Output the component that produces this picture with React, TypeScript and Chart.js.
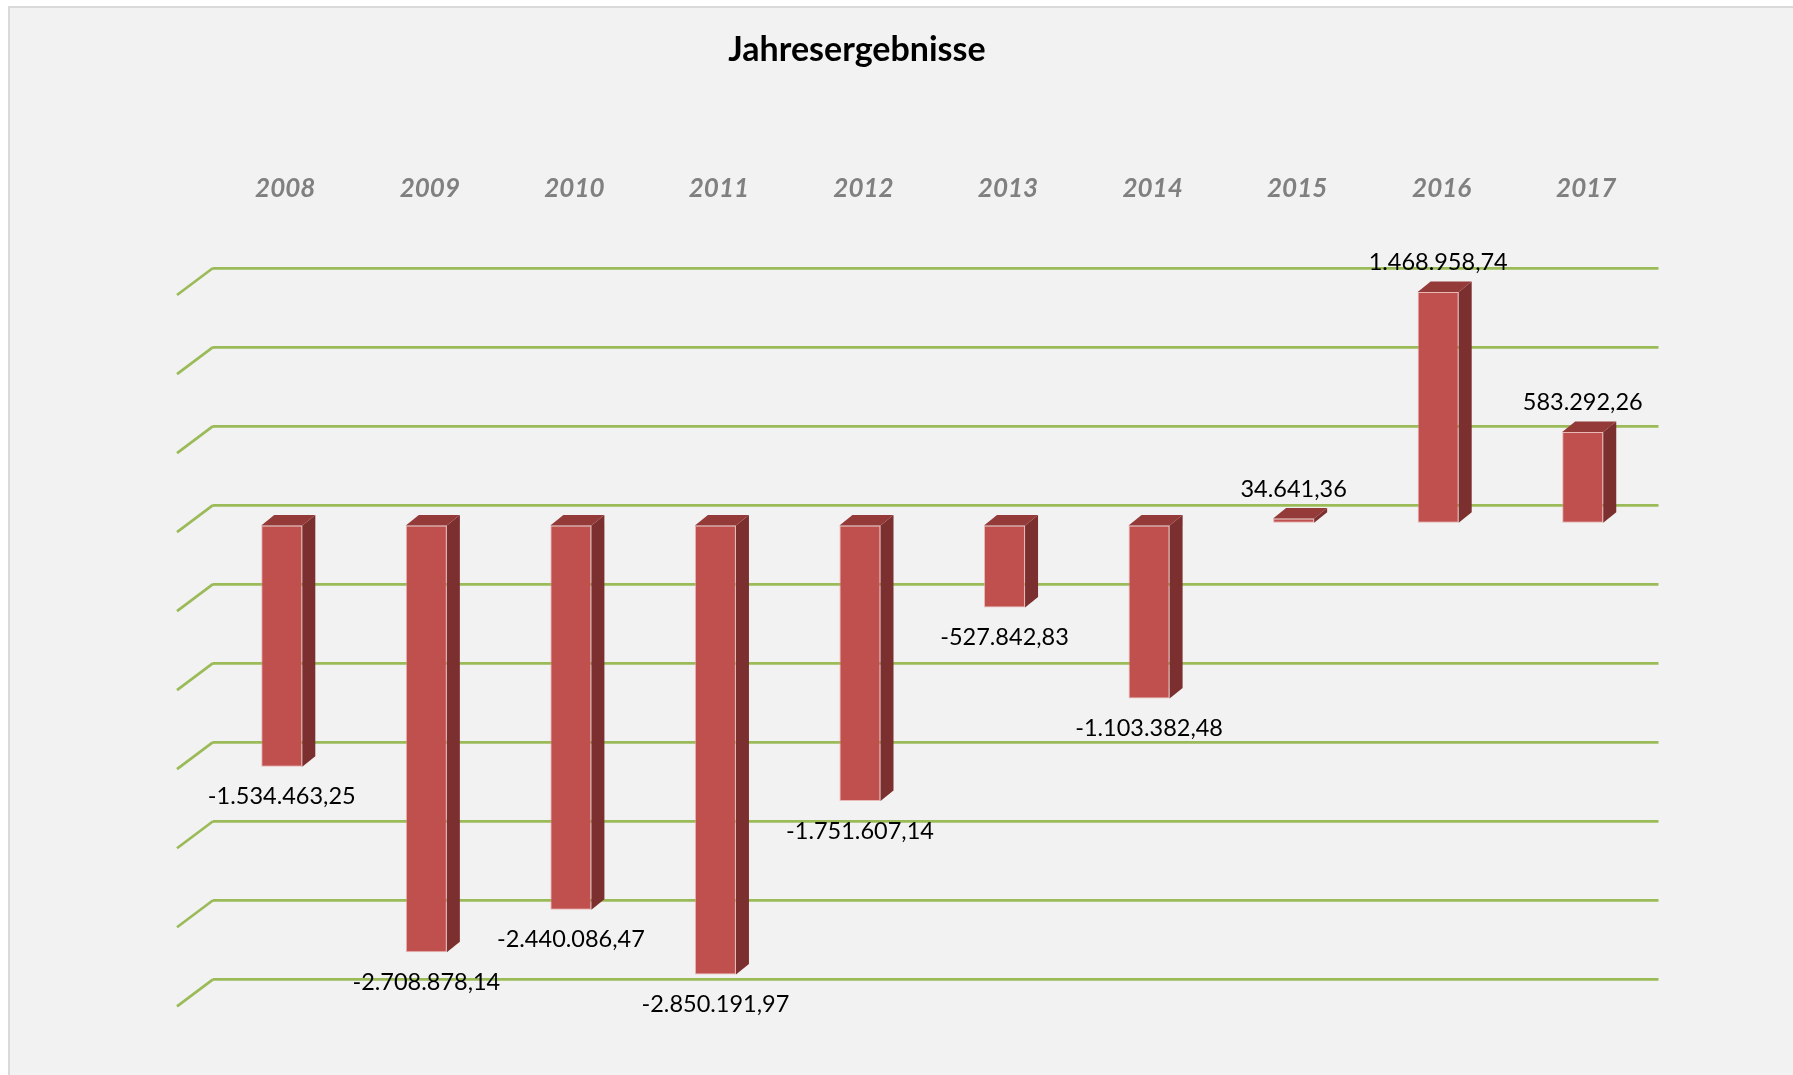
import { useEffect, useRef } from 'react';
import { Chart, registerables } from 'chart.js';

Chart.register(...registerables);

// ---------- data ----------
const chartTitle = 'Jahresergebnisse';
const categories = ['2008', '2009', '2010', '2011', '2012', '2013', '2014', '2015', '2016', '2017'];
const results = [
  -1534463.25, -2708878.14, -2440086.47, -2850191.97, -1751607.14,
  -527842.83, -1103382.48, 34641.36, 1468958.74, 583292.26,
];
const yMin = -3000000;
const yMax = 1500000;
const yStep = 500000;

// ---------- style ----------
const GREEN = '#9BBB59';
const FRONT_RED = '#C0504D';
const TOP_RED = '#943A38';
const SIDE_RED = '#7B2F2E';
const FRONT = { x: -3.5, y: 19 }; // bar front plane relative to back wall
const DEPTH = { x: 13, y: -10.5 }; // bar depth
const WALL = { x: -36, y: 27 }; // side wall diagonal

function formatDE(v: number): string {
  const neg = v < 0;
  const [intPart, dec] = Math.abs(v).toFixed(2).split('.');
  const intF = intPart.replace(/\B(?=(\d{3})+(?!\d))/g, '.');
  return (neg ? '-' : '') + intF + ',' + dec;
}

const excel3d = {
  id: 'excel3d',
  beforeDatasetsDraw(chart: any) {
    const { ctx, chartArea, scales } = chart;
    const y = scales.y;
    ctx.save();
    ctx.strokeStyle = GREEN;
    ctx.lineWidth = 2.75;
    y.ticks.forEach((t: any) => {
      const py = y.getPixelForValue(t.value);
      ctx.beginPath();
      ctx.moveTo(chartArea.left, py);
      ctx.lineTo(chartArea.left + WALL.x, py + WALL.y);
      ctx.stroke();
    });
    ctx.restore();
    ctx.save();
    ctx.translate(FRONT.x, FRONT.y);
  },
  afterDatasetsDraw(chart: any) {
    const { ctx } = chart;
    const meta = chart.getDatasetMeta(0);
    meta.data.forEach((bar: any) => {
      const { x, y, base, width } = bar.getProps(['x', 'y', 'base', 'width'], true);
      const l = x - width / 2;
      const r = x + width / 2;
      const top = Math.min(y, base);
      const bot = Math.max(y, base);
      ctx.fillStyle = SIDE_RED;
      ctx.beginPath();
      ctx.moveTo(r, top);
      ctx.lineTo(r + DEPTH.x, top + DEPTH.y);
      ctx.lineTo(r + DEPTH.x, bot + DEPTH.y);
      ctx.lineTo(r, bot);
      ctx.closePath();
      ctx.fill();
      ctx.fillStyle = TOP_RED;
      ctx.beginPath();
      ctx.moveTo(l, top);
      ctx.lineTo(l + DEPTH.x, top + DEPTH.y);
      ctx.lineTo(r + DEPTH.x, top + DEPTH.y);
      ctx.lineTo(r, top);
      ctx.closePath();
      ctx.fill();
    });
    ctx.restore();

    ctx.save();
    ctx.font = '23.5px Lato';
    ctx.fillStyle = '#000000';
    ctx.textAlign = 'center';
    ctx.textBaseline = 'middle';
    meta.data.forEach((bar: any, i: number) => {
      const v = results[i];
      const py = bar.y + FRONT.y + (v < 0 ? 30 : -29);
      ctx.fillText(formatDE(v), bar.x + FRONT.x, py);
    });
    ctx.restore();
  },
  afterDraw(chart: any) {
    const { ctx } = chart;
    ctx.save();
    ctx.font = 'bold 34px Lato';
    ctx.fillStyle = '#000000';
    ctx.textAlign = 'center';
    ctx.textBaseline = 'middle';
    ctx.fillText(chartTitle, 857, 50);
    ctx.restore();
  },
};

export default function App() {
  const ref = useRef<HTMLCanvasElement>(null);

  useEffect(() => {
    if (!ref.current) return;
    const chart = new Chart(ref.current, {
      type: 'bar',
      data: {
        labels: categories,
        datasets: [
          {
            label: 'Jahresergebnis',
            data: results,
            backgroundColor: FRONT_RED,
            borderColor: 'rgba(230,160,158,0.7)',
            borderWidth: 1,
            borderSkipped: false,
            barPercentage: 0.284,
            categoryPercentage: 1,
          },
        ],
      },
      options: {
        responsive: false,
        animation: false,
        devicePixelRatio: 1,
        layout: { padding: { left: 213, right: 134.5, top: 0, bottom: 95.7 } },
        plugins: {
          legend: { display: false },
          title: { display: false },
          tooltip: { enabled: false },
        },
        scales: {
          x: {
            position: 'top',
            grid: { display: false, drawTicks: false },
            border: { display: false },
            ticks: {
              padding: 63.5,
              color: '#808080',
              font: { family: 'Lato', size: 26, weight: 'bold', style: 'italic' },
              maxRotation: 0,
            },
            afterFit: (s: any) => {
              s.height = 268;
            },
          },
          y: {
            min: yMin,
            max: yMax,
            grid: { color: GREEN, lineWidth: 2.75, drawTicks: false },
            border: { display: false },
            ticks: { display: false, stepSize: yStep },
            afterFit: (s: any) => {
              s.width = 0;
            },
          },
        },
      },
      plugins: [excel3d],
    } as any);
    return () => chart.destroy();
  }, []);

  return (
    <div>
      <div
        style={{
          position: 'fixed',
          left: 8,
          top: 6,
          right: 0,
          bottom: 0,
          background: '#F2F2F2',
          borderLeft: '2px solid #D9D9D9',
          borderTop: '2px solid #D9D9D9',
        }}
      />
      <canvas
        ref={ref}
        width={1793}
        height={1075}
        style={{ position: 'fixed', left: 0, top: 0, width: 1793, height: 1075 }}
      />
    </div>
  );
}
